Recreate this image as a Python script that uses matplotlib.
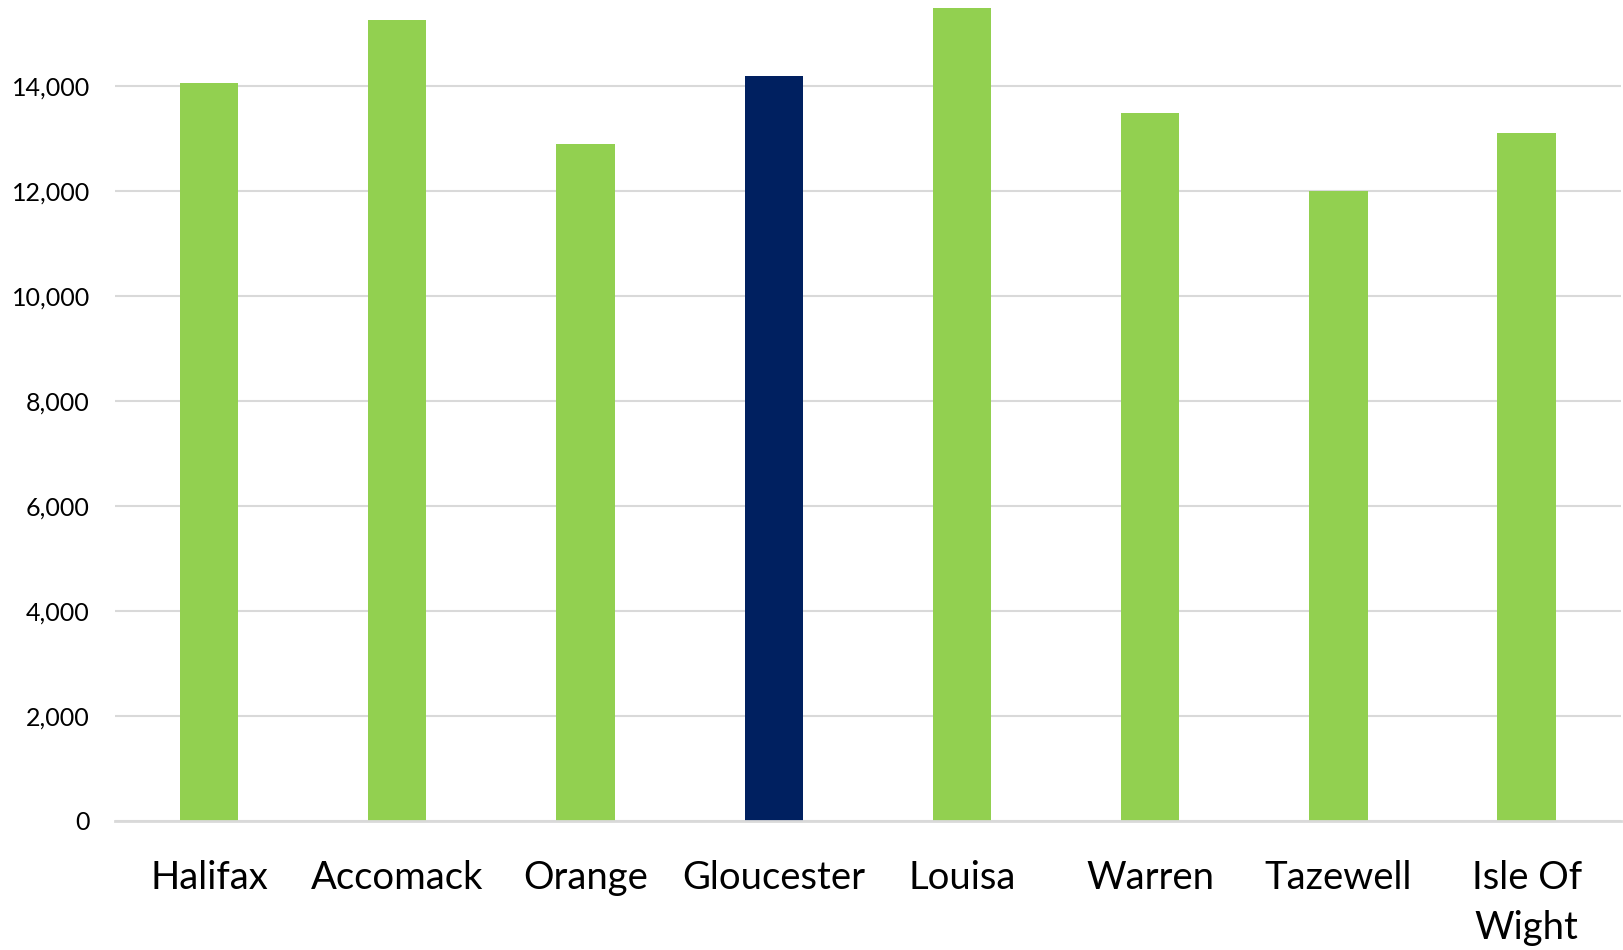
import matplotlib
matplotlib.use("Agg")
import matplotlib.pyplot as plt
from matplotlib.ticker import FuncFormatter

# データ
counties = ["Halifax", "Accomack", "Orange", "Gloucester", "Louisa",
            "Warren", "Tazewell", "Isle Of\nWight"]
values = [14050, 15250, 12880, 14190, 15480, 13480, 11990, 13100]
highlight = "Gloucester"

green = "#92D050"
navy = "#002060"
grid_col = "#D9D9D9"

plt.rcParams['font.family'] = ['Lato', 'DejaVu Sans']

fig = plt.figure(figsize=(16.24, 9.5), dpi=100)
ax = fig.add_axes([0.0708, 0.1361, 0.9272, 0.8639])

colors = [navy if c == highlight else green for c in counties]
x = range(len(counties))
ax.bar(x, values, width=0.31, color=colors, zorder=3)

ax.set_xlim(-0.5, len(counties) - 0.5)
ax.set_ylim(0, 15632)
ax.set_yticks(range(0, 15000, 2000))
ax.yaxis.set_major_formatter(FuncFormatter(lambda v, p: f"{int(v):,}"))
ax.set_xticks(list(x))
ax.set_xticklabels(counties, fontsize=27.5, linespacing=1.5)

ax.grid(axis='y', color=grid_col, linewidth=1.5, zorder=0)
for s in ['top', 'right', 'left']:
    ax.spines[s].set_visible(False)
ax.spines['bottom'].set_color(grid_col)
ax.spines['bottom'].set_linewidth(2)
ax.spines['bottom'].set_zorder(4)

ax.tick_params(axis='y', length=0, pad=18, labelsize=18, labelcolor='#000000')
ax.tick_params(axis='x', length=0, pad=28, labelcolor='#000000')

fig.savefig("out.png", dpi=100)
